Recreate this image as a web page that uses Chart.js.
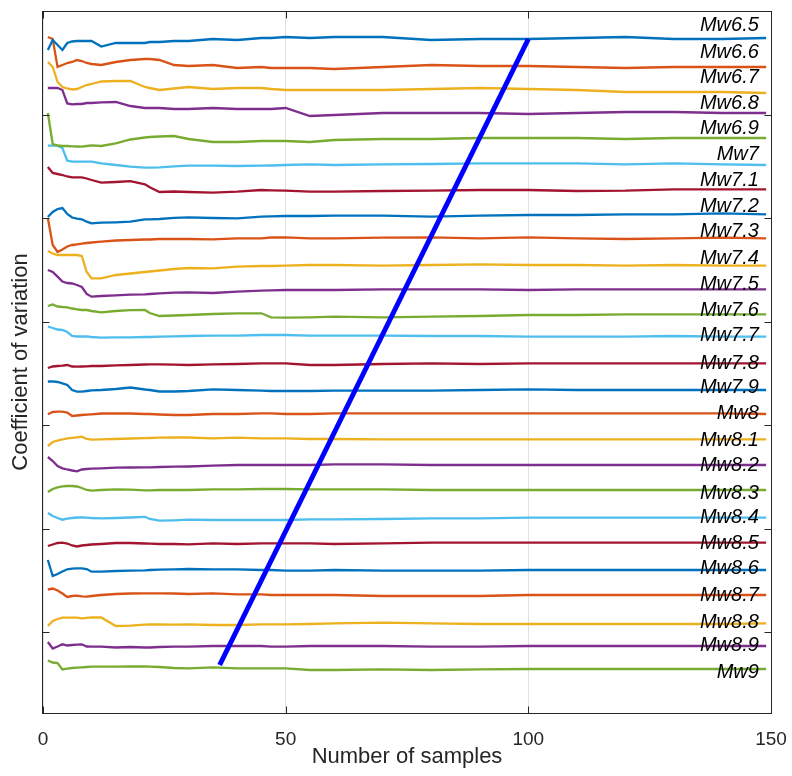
<!DOCTYPE html>
<html>
<head>
<meta charset="utf-8">
<script src="https://cdn.jsdelivr.net/npm/chart.js@4.4.0/dist/chart.umd.min.js"></script>
<style>
  body { margin: 0; background: #fff; }
  #wrap { width: 792px; height: 776px; }
</style>
</head>
<body>
<div id="wrap"><canvas id="cvChart" width="792" height="776"></canvas></div>
<script>
// sample counts where each curve was read
const samples = [1, 2, 3, 4, 5, 6, 7, 8, 9, 10, 12, 15, 18, 21, 22, 24, 27, 30, 35, 40, 45, 47, 50, 55, 60, 70, 80, 90, 100, 110, 120, 130, 140, 149];

// curves (stacked, offset units; axis has no value labels)
const mw65 = [663, 673, 668, 663, 670, 671.5, 672, 672, 672, 672, 666.5, 670, 670, 670, 671, 671, 672, 672, 674, 673, 675, 675, 676, 675, 676, 676, 673, 674, 674, 675, 676, 674, 674, 675];
const mw66 = [676, 674, 646, 648, 650, 651, 653, 652, 650, 649, 648, 651, 653, 654, 654, 653, 648, 647, 648, 645, 646, 645, 645, 645, 644, 646, 648, 647, 647, 646, 645, 646, 646, 646];
const mw67 = [651, 646, 631, 626, 624.5, 623.5, 624, 626, 628, 629, 631.5, 632, 632, 626, 625, 623, 624.5, 626, 624, 625, 625, 624, 623, 623, 623, 623, 624, 625, 624, 623, 621, 621, 621, 620];
const mw68 = [625, 625, 625, 623, 609.5, 608.7, 609, 609, 610, 610, 610.7, 611, 607, 605, 605, 605, 604, 604, 605, 604, 604, 604, 605, 597, 598, 600, 600, 600, 599, 600, 601, 601, 600, 600];
const mw69 = [600, 569, 567.5, 567, 567, 566.7, 566.5, 566.3, 567, 567.7, 567, 569.7, 573.5, 575.5, 576, 576.5, 577, 574, 571, 571, 572, 572, 572, 571, 573, 574, 574, 575, 575, 575, 574, 575, 575, 575];
const mw70 = [567.3, 567.3, 567.3, 565, 552.3, 551.3, 551.3, 551.3, 551.3, 551.3, 549.7, 548, 546.3, 545.3, 545.3, 545.7, 546.7, 547.3, 547.3, 547, 547.3, 547.5, 548, 548.7, 548, 548.7, 549, 549.7, 549.7, 549.7, 548.7, 549.7, 548.7, 548];
const mw71 = [546, 540, 539, 538, 536.5, 535.7, 535.7, 535.7, 534.5, 533, 530.3, 531, 531.8, 528.7, 525.7, 521, 521.5, 521, 520.3, 521.3, 523, 522.7, 522.3, 521.3, 521.3, 522, 522.3, 523, 523, 522, 522.3, 523.7, 523.7, 523.7];
const mw72 = [496, 501, 504, 505, 499, 495.5, 494.3, 493.7, 491.3, 489.7, 490.3, 490.7, 491.3, 493.7, 493.7, 494, 495.2, 495.7, 495, 494.7, 496.3, 496.7, 497, 497, 497.3, 497.3, 496.3, 497.3, 498, 498, 498.7, 498.7, 499.7, 498.7];
const mw73 = [495, 468, 461, 463.5, 466.5, 468, 468.7, 469.3, 470, 470.5, 471.3, 472.5, 473, 473.5, 473.5, 474, 474, 474, 473.7, 474.7, 474.7, 475.5, 475.7, 474.7, 474.7, 475.3, 475.7, 474.7, 475.7, 474.7, 474, 474.7, 475.3, 474.7];
const mw74 = [462, 459.5, 458, 458, 458, 458, 458, 457, 441, 434.7, 434.7, 438, 439.5, 441, 441.5, 442.5, 444, 445, 444.7, 446.3, 447, 447, 447.3, 448, 448, 447.3, 448, 448.7, 448, 448, 447.3, 448, 447.3, 447.3];
const mw75 = [443, 441, 436.3, 431.5, 430, 429.5, 428, 426, 419, 416.3, 417, 417.7, 418.3, 418.7, 419, 419.7, 420.3, 420.7, 420, 421.3, 422.3, 422.7, 423, 423, 423, 423.7, 423.7, 423.7, 423, 423.7, 423.7, 423.7, 423.7, 423.7];
const mw76 = [407, 408.5, 406.5, 406, 405.7, 404.5, 403.7, 403, 403, 402, 400.7, 402, 402.8, 403, 400, 397, 397.5, 398, 399, 399.7, 399.7, 395.7, 395.3, 395.7, 396.3, 395.7, 396.3, 397, 398, 398, 398.7, 398.7, 398.7, 398.7];
const mw77 = [386.5, 385, 383.5, 383, 381, 377, 376.5, 376.5, 376.7, 376, 375.3, 375.7, 375.7, 376, 376, 376.3, 376.7, 377, 377.3, 377.3, 378, 378, 378, 377.3, 377.3, 377.3, 377, 377, 376.3, 376.3, 376.3, 377, 376.3, 376.3];
const mw78 = [345, 346.5, 347, 347.3, 348, 346.5, 346.3, 346.5, 346.7, 347, 347, 347.7, 348, 348.5, 348.7, 348.7, 348.3, 348, 348.7, 349, 349.7, 349.7, 349.7, 348, 348, 349, 349.7, 349, 349.7, 349.7, 349.7, 349.7, 349.7, 349.7];
const mw79 = [331.5, 331.7, 331, 329.7, 328, 323, 321.3, 321.3, 322, 322.7, 323, 324, 325.5, 323.5, 323, 321.5, 321.5, 322, 323.7, 323, 322.3, 322, 322, 322, 322.3, 322.3, 322.3, 323, 323.7, 323, 323, 323, 323, 323];
const mw80 = [298.7, 301, 301.3, 301.3, 300.5, 297, 297.5, 298, 298.3, 298.7, 299.5, 299.7, 299.5, 299, 299, 298.5, 298, 298, 299, 299, 299.7, 299.7, 299, 299, 299.7, 299.7, 299.7, 299.7, 299.7, 299.7, 299.7, 299.7, 299.7, 299];
const mw81 = [267, 271, 272.5, 273.5, 274.7, 275.2, 275.7, 276.3, 274, 273.3, 273.7, 274, 274.5, 274.8, 275, 275.3, 275.7, 275.5, 274.7, 275.3, 274.7, 274.7, 274.7, 274, 274, 273.7, 273.7, 273.7, 273.7, 273.7, 273.7, 273.7, 273.7, 273.7];
const mw82 = [256, 252, 247, 244.7, 243.5, 242.5, 241.7, 243.5, 244, 244.3, 244.7, 245.3, 245.5, 245.7, 245.7, 246, 246.3, 246.5, 247.3, 248, 248, 248, 248, 248, 248.7, 248.7, 248, 248, 248, 248, 248, 248, 248, 248];
const mw83 = [221, 224, 225.7, 226.7, 227, 227, 226.5, 225, 223, 222.3, 223, 223.7, 223.3, 222.7, 222.7, 223, 223, 223, 223.7, 223.7, 224, 224, 224, 223.7, 223.7, 223.7, 223, 223, 223, 223, 223, 223, 223, 223];
const mw84 = [200, 197, 195, 193.3, 194.3, 195, 195.5, 195.7, 195.3, 195, 194.7, 195, 195.5, 196.2, 194, 192.3, 192.7, 193.3, 193, 193, 193, 193, 193, 193.7, 193.7, 194, 194.7, 194.7, 195.3, 195.3, 195.3, 195.3, 195.3, 195.3];
const mw85 = [167, 168.5, 170, 170.3, 169.5, 167.5, 166.5, 167.5, 168, 168.5, 169, 170, 170, 169.5, 169.3, 169, 169, 168.7, 169.7, 169, 169.7, 169.7, 169.7, 169.7, 169, 169.7, 170.3, 170.3, 170.3, 170.3, 170.3, 170.3, 170.3, 170.3];
const mw86 = [153, 137, 139, 141.5, 143.7, 144.3, 144.7, 144.7, 144, 141.3, 141.3, 142, 142.3, 142.7, 143, 143.3, 143.7, 144, 143.7, 143.7, 143, 143, 142.3, 142.3, 143, 142.3, 142.3, 142.3, 143, 143, 143, 143, 143, 143];
const mw87 = [123.5, 124.5, 122.5, 119.5, 116, 117, 117.3, 116.7, 116.3, 117, 118, 119, 119.5, 119.7, 119.7, 119.7, 119.5, 119, 119.7, 118.7, 118.7, 118, 118, 118, 118, 117, 117, 117, 118, 118, 118, 118, 118, 118];
const mw88 = [87, 92, 94, 95.3, 95.3, 95.3, 95.3, 94.7, 95.2, 95.7, 95.5, 87, 87.3, 88.3, 88.5, 88.5, 88.3, 88.7, 88, 88, 88.7, 88.7, 88.7, 89, 89.7, 90.3, 89.7, 89, 89, 89, 89, 89, 89, 89.7];
const mw89 = [71, 64.5, 66.5, 68.7, 67.5, 68, 68.3, 68.7, 66.5, 66.3, 66.3, 65.5, 66, 65.5, 65.5, 66, 66.3, 66.3, 67, 67, 67, 66.3, 66.3, 67, 67, 67, 66.3, 66.3, 67, 67, 67, 67, 67, 67];
const mw90 = [52.5, 50.5, 50, 43.5, 44.3, 45, 45.3, 45.7, 46, 46.3, 46.3, 46.3, 46.7, 46.5, 46.3, 46, 45, 44.7, 45.7, 44.7, 44.7, 44.7, 44.7, 43, 43, 43.7, 43, 43.7, 44, 44, 44, 44, 44, 44];

const magnitudes = ['Mw6.5', 'Mw6.6', 'Mw6.7', 'Mw6.8', 'Mw6.9', 'Mw7', 'Mw7.1', 'Mw7.2', 'Mw7.3', 'Mw7.4', 'Mw7.5', 'Mw7.6', 'Mw7.7',
                    'Mw7.8', 'Mw7.9', 'Mw8', 'Mw8.1', 'Mw8.2', 'Mw8.3', 'Mw8.4', 'Mw8.5', 'Mw8.6', 'Mw8.7', 'Mw8.8', 'Mw8.9', 'Mw9'];
const curves = [mw65, mw66, mw67, mw68, mw69, mw70, mw71, mw72, mw73, mw74, mw75, mw76, mw77,
                mw78, mw79, mw80, mw81, mw82, mw83, mw84, mw85, mw86, mw87, mw88, mw89, mw90];

// text annotations (right aligned at labelX)
const labelX = 147.5;
const labelY = [688, 661, 636, 610, 585, 559, 533, 507, 482, 455, 429, 403, 378, 350, 326, 300, 273, 248, 220, 196, 170, 145, 118, 91, 68, 41];

// the blue guide line
const guideX = [36.4, 100];
const guideY = [48, 674];

const xTicks = [0, 50, 100, 150];
const yTicks = [81, 184.5, 288, 391.5, 495, 598.5, 702];

const palette = ['#0072BD', '#D95319', '#EDB120', '#7E2F8E', '#77AC30', '#4DBEEE', '#A2142F'];
const axisColor = '#262626';

const datasets = curves.map((vals, i) => ({
    label: magnitudes[i],
    data: vals.map((v, k) => ({ x: samples[k], y: v })),
    borderColor: palette[i % palette.length],
    borderWidth: 2.3,
    pointRadius: 0,
    tension: 0,
    fill: false
}));
datasets.unshift({
    label: 'guide',
    data: guideX.map((gx, k) => ({ x: gx, y: guideY[k] })),
    borderColor: '#0000FF',
    borderWidth: 5,
    pointRadius: 0,
    borderCapStyle: 'butt',
    order: -1
});

// box, inward tick marks and the Mw labels
const decorations = {
    id: 'decorations',
    afterDatasetsDraw(chart) {
        const { ctx, chartArea: a, scales: { x, y } } = chart;
        ctx.save();
        ctx.font = 'italic 20px "Liberation Sans", Arial, sans-serif';
        ctx.fillStyle = '#000';
        ctx.textAlign = 'right';
        ctx.textBaseline = 'middle';
        magnitudes.forEach((m, i) => {
            ctx.fillText(m, x.getPixelForValue(labelX), y.getPixelForValue(labelY[i]));
        });

        const L = Math.round(a.left) - 0.5, R = Math.round(a.right) + 0.5;
        const T = Math.round(a.top) + 0.5, B = Math.round(a.bottom) + 0.5;
        ctx.strokeStyle = axisColor;
        ctx.lineWidth = 1;
        ctx.strokeRect(L, T, R - L, B - T);
        ctx.beginPath();
        yTicks.forEach(v => {
            const py = Math.round(y.getPixelForValue(v)) + 0.5;
            ctx.moveTo(L, py); ctx.lineTo(L + 7, py);
            ctx.moveTo(R, py); ctx.lineTo(R - 7, py);
        });
        xTicks.forEach(v => {
            const px = Math.round(x.getPixelForValue(v)) + 0.5;
            ctx.moveTo(px, B); ctx.lineTo(px, B - 7);
            ctx.moveTo(px, T); ctx.lineTo(px, T + 7);
        });
        ctx.stroke();
        ctx.restore();
    }
};

const ctx = document.getElementById('cvChart').getContext('2d');
const cvChart = new Chart(ctx, {
    type: 'line',
    data: { datasets: datasets },
    options: {
        responsive: false,
        animation: false,
        events: [],
        layout: { padding: { left: 0, right: 21, top: 11, bottom: 0 } },
        plugins: { legend: { display: false }, tooltip: { enabled: false } },
        scales: {
            x: {
                type: 'linear',
                min: 0,
                max: 150,
                afterFit: s => { s.height = 63; s.paddingLeft = 0; s.paddingRight = 0; },
                afterBuildTicks: s => { s.ticks = xTicks.map(v => ({ value: v })); },
                grid: { color: '#e2e2e2', lineWidth: 1, drawTicks: false },
                border: { display: false },
                ticks: {
                    padding: 15,
                    color: axisColor,
                    font: { family: '"Liberation Sans", Arial, sans-serif', size: 19 }
                },
                title: {
                    display: true,
                    text: 'Number of samples',
                    color: axisColor,
                    padding: { top: 0, bottom: 6 },
                    font: { family: '"Liberation Sans", Arial, sans-serif', size: 22 }
                }
            },
            y: {
                type: 'linear',
                min: 0,
                max: 702,
                afterFit: s => { s.width = 43; s.paddingTop = 0; s.paddingBottom = 0; },
                grid: { display: false },
                border: { display: false },
                ticks: { display: false },
                title: {
                    display: true,
                    text: 'Coefficient of variation',
                    color: axisColor,
                    padding: { top: 7.5, bottom: 0 },
                    font: { family: '"Liberation Sans", Arial, sans-serif', size: 22 }
                }
            }
        }
    },
    plugins: [decorations]
});
</script>
</body>
</html>
